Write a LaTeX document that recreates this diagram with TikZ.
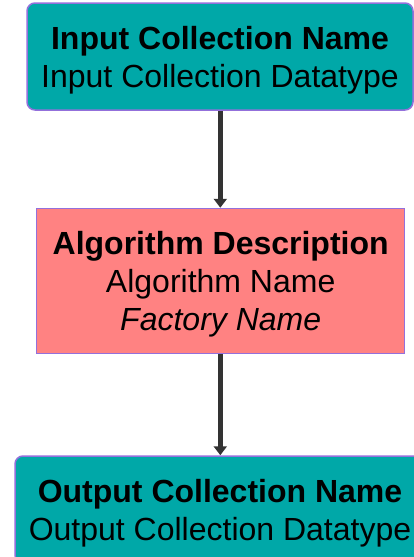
\documentclass[tikz,border=0pt]{standalone}
\usepackage{fontspec}
\setmainfont{Liberation Sans}
\usetikzlibrary{arrows.meta}
\definecolor{collfill}{HTML}{00A8A8}
\definecolor{algfill}{HTML}{FF8282}
\definecolor{boxedge}{HTML}{9370DB}
\definecolor{linkcol}{HTML}{333333}
\tikzset{
  box/.style={draw=boxedge, line width=1.5pt, align=center, inner sep=0pt,
    text depth=-4pt, font=\fontsize{32}{38}\selectfont, text=black},
  collbox/.style={box, fill=collfill, rounded corners=8pt,
    minimum width=386pt, minimum height=107pt},
  algbox/.style={box, fill=algfill, minimum width=368pt, minimum height=145pt},
  link/.style={draw=linkcol, line width=5pt, -{Triangle[length=9pt,width=13pt]}}
}
\begin{document}
\begin{tikzpicture}[x=1pt, y=-1pt]
  \useasboundingbox (0,0) rectangle (414,557);
  \clip (0,0) rectangle (414,557);
  \node[collbox] (in) at (220,56.5)
    {\textbf{Input Collection Name}\\Input Collection Datatype};
  \node[algbox] (alg) at (220.7,281)
    {\textbf{Algorithm Description}\\Algorithm Name\\\textit{Factory Name}};
  \node[collbox, minimum width=410pt] (out) at (220,509.5)
    {\textbf{Output Collection Name}\\Output Collection Datatype};
  \draw[link] (in.south -| 220.3,0) -- (alg.north -| 220.3,0);
  \draw[link] (alg.south -| 220.3,0) -- (out.north -| 220.3,0);
\end{tikzpicture}
\end{document}
